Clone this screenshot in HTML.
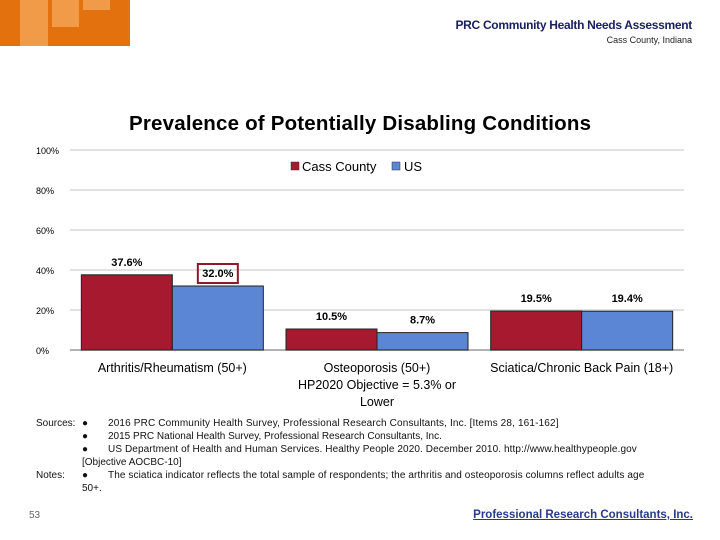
<!DOCTYPE html>
<html><head><meta charset="utf-8"><style>
body{margin:0;width:720px;height:540px;background:#fff;position:relative;overflow:hidden;font-family:"Liberation Sans",sans-serif}
.a{position:absolute;white-space:nowrap}
.fl{position:relative;height:13px}
.fl span{position:absolute}
</style></head><body>
<div class="a" style="left:0;top:0;width:130px;height:46px;background:#E3720E"></div>
<div class="a" style="left:20px;top:0;width:28px;height:46px;background:#F19A48"></div>
<div class="a" style="left:52px;top:0;width:27px;height:27px;background:#F19A48"></div>
<div class="a" style="left:83px;top:0;width:27px;height:10px;background:#F19A48"></div>
<div class="a" style="right:28px;top:18px;font-size:12px;font-weight:bold;color:#1a2060;letter-spacing:-0.3px">PRC Community Health Needs Assessment</div>
<div class="a" style="right:28px;top:35px;font-size:9px;color:#222">Cass County, Indiana</div>
<svg class="a" style="left:0;top:0" width="720" height="540">
<text x="360" y="130" text-anchor="middle" font-size="20.5" font-weight="bold" font-family="Liberation Sans" textLength="462">Prevalence of Potentially Disabling Conditions</text>
<g id="grid"></g><g id="bars"></g>
<g>
<rect x="291" y="162" width="8" height="8" fill="#A6192E" stroke="#333" stroke-width="0.5"/>
<text x="302" y="171" font-size="13" font-family="Liberation Sans">Cass County</text>
<rect x="392" y="162" width="8" height="8" fill="#5B86D6" stroke="#333" stroke-width="0.5"/>
<text x="404" y="171" font-size="13" font-family="Liberation Sans">US</text>
</g>
</svg>
<div class="a" style="left:0;top:417px;width:720px;font-size:10px;line-height:13px;color:#111">
<div class="fl"><span style="left:36px">Sources:</span><span style="left:82px">&#9679;</span><span style="left:108px;letter-spacing:0.15px">2016 PRC Community Health Survey, Professional Research Consultants, Inc. [Items 28, 161-162]</span></div>
<div class="fl"><span style="left:82px">&#9679;</span><span style="left:108px">2015 PRC National Health Survey, Professional Research Consultants, Inc.</span></div>
<div class="fl"><span style="left:82px">&#9679;</span><span style="left:108px;letter-spacing:0.1px">US Department of Health and Human Services. Healthy People 2020. December 2010. http://www.healthypeople.gov</span></div>
<div class="fl"><span style="left:82px">[Objective AOCBC-10]</span></div>
<div class="fl"><span style="left:36px">Notes:</span><span style="left:82px">&#9679;</span><span style="left:108px;letter-spacing:0.1px">The sciatica indicator reflects the total sample of respondents; the arthritis and osteoporosis columns reflect adults age</span></div>
<div class="fl"><span style="left:82px">50+.</span></div>
</div>
<div class="a" style="left:29px;top:510px;font-size:10px;color:#666">53</div>
<div class="a" style="right:27px;top:509px;font-size:11.5px;font-weight:bold;color:#2a3a8a;text-decoration:underline">Professional Research Consultants, Inc.</div>
<script>
const categories=["Arthritis/Rheumatism (50+)","Osteoporosis (50+)|HP2020 Objective = 5.3% or|Lower","Sciatica/Chronic Back Pain (18+)"];
const cassValues=[37.6,10.5,19.5];
const usValues=[32.0,8.7,19.4];
const yTicks=[0,20,40,60,80,100];
const NS="http://www.w3.org/2000/svg";
const X0=70,X1=684,Y0=350,Y1=150,BW=91;
const y=v=>Y0-(v/100)*(Y0-Y1);
const gw=(X1-X0)/categories.length;
const gc=i=>X0+gw*i+gw/2;
function mk(t,a,p){const e=document.createElementNS(NS,t);for(const k in a)e.setAttribute(k,a[k]);p.appendChild(e);return e;}
const grid=document.getElementById('grid'),bars=document.getElementById('bars');
yTicks.forEach(t=>{
 const l=mk('line',{x1:X0,x2:X1,y1:y(t),y2:y(t),stroke:t===0?'#999':'#d9d9d9','stroke-width':1.5},grid);
 
 
 const tx=mk('text',{x:36,y:y(t)+4,'font-size':9,'font-family':'Liberation Sans'},grid);
 tx.textContent=t+'%';
 
 
});
categories.forEach((c,i)=>{
 const cx=gc(i);
 [[cassValues[i],'#A6192E',cx-BW,'cass'],[usValues[i],'#5B86D6',cx,'us']].forEach(([v,col,x,s])=>{
  const r=mk('rect',{x:x,y:y(v),width:BW,height:Y0-y(v),fill:col,stroke:'#222','stroke-width':1},bars);
  
  
  const ly=y(v)-9;
  const lab=mk('text',{x:x+BW/2,y:ly,'text-anchor':'middle','font-size':11,'font-weight':'bold','font-family':'Liberation Sans'},bars);
  lab.textContent=v.toFixed(1)+'%';
  
  
  if(s==='us'&&i===0){const b=mk('rect',{x:x+BW/2-20,y:ly-13,width:40,height:19,fill:'none',stroke:'#8B1A2B','stroke-width':2},bars);
   
   }
 });
 c.split('|').forEach((ln,j)=>{
  const t=mk('text',{x:cx,y:372+j*17,'text-anchor':'middle','font-size':12.5,'font-family':'Liberation Sans'},bars);
  t.textContent=ln;
  
  
 });
});
</script>
</body></html>
